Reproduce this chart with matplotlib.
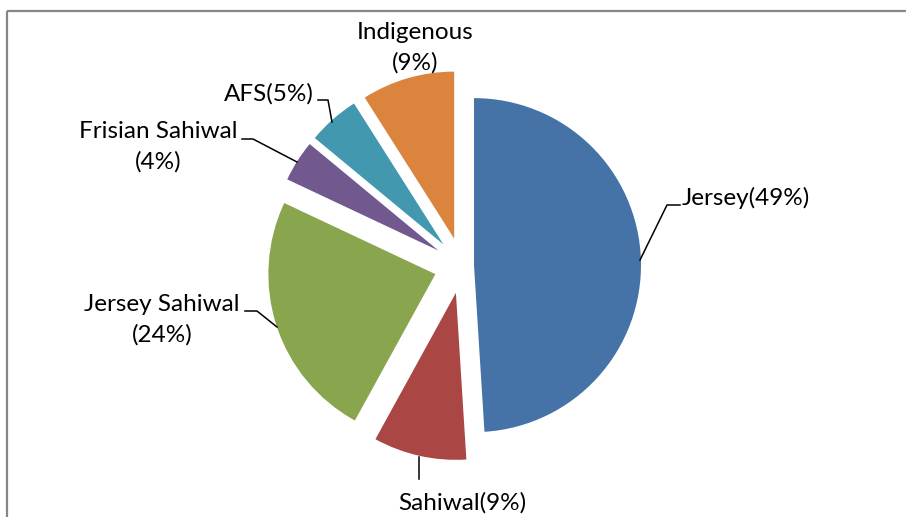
import matplotlib
matplotlib.use("Agg")
import matplotlib.pyplot as plt

# ---- data ----
categories = ["Jersey", "Sahiwal", "Jersey Sahiwal", "Frisian Sahiwal", "AFS", "Indigenous"]
values = [49, 9, 24, 4, 5, 9]
label_texts = ["Jersey(49%)", "Sahiwal(9%)", "Jersey Sahiwal\n(24%)",
               "Frisian Sahiwal\n(4%)", "AFS(5%)", "Indigenous\n(9%)"]

# ---- style ----
colors = ["#4572A7", "#AA4643", "#89A54E", "#71588F", "#4198AF", "#DB843D"]
explode = [12, 28, 28, 28, 28, 28]

W, H = 906, 517
plt.rcParams['font.family'] = ['Lato', 'DejaVu Sans']
fig = plt.figure(figsize=(W / 100, H / 100), dpi=100)
ax = fig.add_axes([0, 0, 1, 1])


def Y(y_px):
    return H - y_px


ax.pie(values, colors=colors, explode=explode, startangle=90, counterclock=False,
       center=(462, Y(265.5)), radius=167, frame=True,
       wedgeprops=dict(linewidth=0))
ax.set_xlim(0, W)
ax.set_ylim(0, H)
ax.set_aspect('auto')
ax.axis('off')

# frame lines (chart area border)
ax.plot([7, W], [Y(11), Y(11)], color="#878787", lw=1.6, solid_capstyle='butt', clip_on=False)
ax.plot([7, 7], [Y(11), 0], color="#878787", lw=1.6, solid_capstyle='butt', clip_on=False)

fs = 17.5
tkw = dict(fontsize=fs, color="#000000", linespacing=1.5)
# labels
ax.text(746, Y(198), label_texts[0], ha='center', va='center', **tkw)
ax.text(462, Y(503), label_texts[1], ha='center', va='center', **tkw)
ax.text(162, Y(320), label_texts[2], ha='center', va='center', **tkw)
ax.text(158.5, Y(147), label_texts[3], ha='center', va='center', **tkw)
ax.text(268.5, Y(94), label_texts[4], ha='center', va='center', **tkw)
ax.text(415, Y(48), label_texts[5], ha='center', va='center', **tkw)

# leader lines
lk = dict(color="black", lw=1.1)
ax.plot([680, 667, 640], [Y(205), Y(205), Y(260)], **lk)
ax.plot([419, 419], [Y(457), Y(479)], **lk)
ax.plot([245, 257, 277], [Y(311), Y(311), Y(327)], **lk)
ax.plot([242, 253, 297], [Y(139), Y(139), Y(162)], **lk)
ax.plot([318, 328, 332], [Y(100), Y(100), Y(122)], **lk)

fig.savefig("out.png", dpi=100, facecolor="white")
